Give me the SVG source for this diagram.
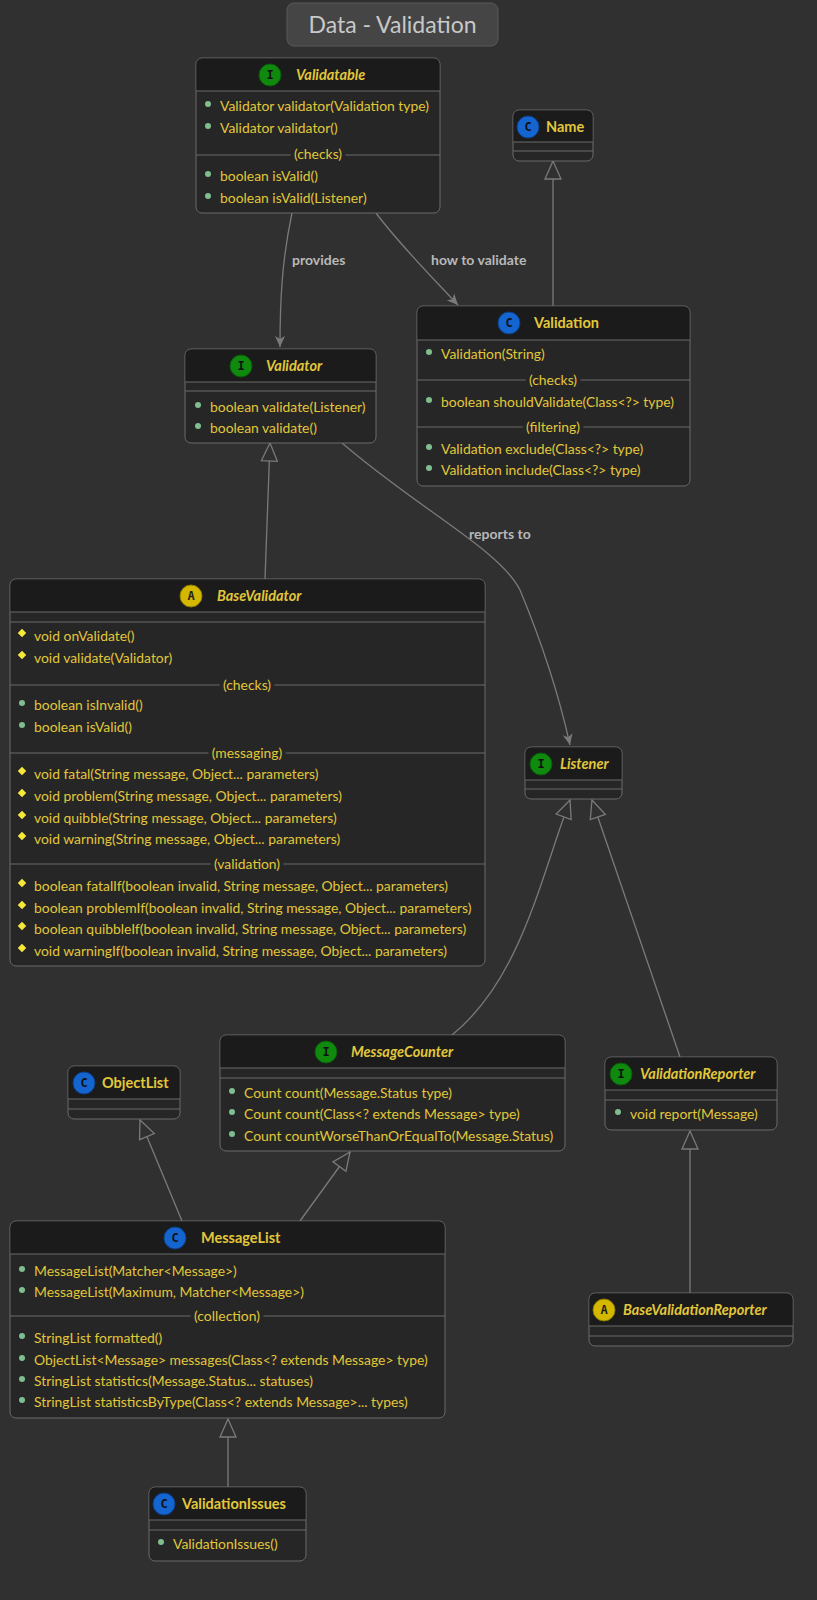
<svg xmlns="http://www.w3.org/2000/svg" width="817" height="1600" viewBox="0 0 817 1600">
<style>
text{font-family:Lato,"Noto Sans","DejaVu Sans",sans-serif;}
.box{fill:#262626;stroke:#6a6a6a;stroke-width:1}
.hd{fill:#1b1b1b}
.sep{stroke:#6a6a6a;stroke-width:1}
.t{fill:#e2c73a;font-size:13.9px}
.sl{fill:#e2c73a;font-size:13.9px;text-anchor:middle;paint-order:stroke;stroke:#262626;stroke-width:8px}
.ti{fill:#e2c73a;font-size:14.5px;font-weight:bold;font-style:italic}
.tc{fill:#e2c73a;font-size:14.5px;font-weight:bold}
.pub{fill:#7fbf8f}
.pro{fill:#f5e83a}
.ic{font-size:12px;font-weight:bold;text-anchor:middle;font-family:"DejaVu Sans Mono",monospace}
.e{fill:none;stroke:#7a7a7a;stroke-width:1.3}
.lbl{fill:#b8b8b8;font-size:14px;font-weight:bold}
</style>
<defs>
<marker id="tri" viewBox="0 0 20 20" refX="19" refY="10" markerWidth="20" markerHeight="20" markerUnits="userSpaceOnUse" orient="auto"><path d="M1,2 L19,10 L1,18 Z" fill="#303030" stroke="#7a7a7a" stroke-width="1.3"/></marker>
<marker id="arr" viewBox="0 0 12 12" refX="11" refY="6" markerWidth="12" markerHeight="12" markerUnits="userSpaceOnUse" orient="auto"><path d="M0,1 L11,6 L0,11 L3,6 Z" fill="#7a7a7a"/></marker>
<symbol id="pubb" overflow="visible"><circle r="3" class="pub"/></symbol>
</defs>
<rect width="817" height="1600" fill="#303030"/>
<g id="title"><rect x="287" y="3" width="211" height="43" rx="7" fill="#454545" stroke="#5a5a5a"/><text x="392.5" y="33" text-anchor="middle" font-size="23" fill="#c8c8c8">Data - Validation</text></g>

<g id="edges">
<path class="e" d="M292,213 C282,260 280,300 280,347" marker-end="url(#arr)"/>
<text class="lbl" x="292" y="265">provides</text>
<path class="e" d="M376,213 C400,245 430,275 458,305" marker-end="url(#arr)"/>
<text class="lbl" x="431" y="265">how to validate</text>
<path class="e" d="M553,306 L553,161" marker-end="url(#tri)"/>
<path class="e" d="M265,579 L270,443" marker-end="url(#tri)"/>
<path class="e" d="M342,443 C420,510 500,550 520,590 C545,650 560,700 570,745" marker-end="url(#arr)"/>
<text class="lbl" x="469" y="539">reports to</text>
<path class="e" d="M452,1035 C520,980 540,880 570,800" marker-end="url(#tri)"/>
<path class="e" d="M680,1057 L592,800" marker-end="url(#tri)"/>
<path class="e" d="M182,1221 L140,1120" marker-end="url(#tri)"/>
<path class="e" d="M300,1221 L350,1152" marker-end="url(#tri)"/>
<path class="e" d="M690,1293 L690,1131" marker-end="url(#tri)"/>
<path class="e" d="M228,1487 L228,1419" marker-end="url(#tri)"/>
</g>

<g id="Validatable">
<rect class="box" x="196" y="58" width="244" height="155" rx="6"/>
<path class="hd" d="M202,58.5 H434 A5.5,5.5 0 0 1 439.5,64 V91 H196.5 V64 A5.5,5.5 0 0 1 202,58.5 Z"/>
<line class="sep" x1="196" y1="91" x2="440" y2="91"/><line class="sep" x1="196" y1="155" x2="440" y2="155"/>
<circle cx="270" cy="75" r="11" fill="#0f8a0f" stroke="#0a5a0a"/><text class="ic" x="270" y="79" fill="#111">I</text>
<text class="ti" x="296" y="80">Validatable</text>
<use href="#pubb" x="208" y="104"/><text class="t" x="220" y="111">Validator validator(Validation type)</text>
<use href="#pubb" x="208" y="126"/><text class="t" x="220" y="133">Validator validator()</text>
<text class="sl" x="318" y="159">(checks)</text>
<use href="#pubb" x="208" y="174"/><text class="t" x="220" y="181">boolean isValid()</text>
<use href="#pubb" x="208" y="196"/><text class="t" x="220" y="203">boolean isValid(Listener)</text>
</g>

<g id="Name">
<rect class="box" x="513" y="110" width="80" height="51" rx="6"/>
<path class="hd" d="M519,110.5 H587 A5.5,5.5 0 0 1 592.5,116 V142 H513.5 V116 A5.5,5.5 0 0 1 519,110.5 Z"/>
<line class="sep" x1="513" y1="142" x2="593" y2="142"/><line class="sep" x1="513" y1="151" x2="593" y2="151"/>
<circle cx="528" cy="127" r="11" fill="#1565d0" stroke="#0d3f88"/><text class="ic" x="528" y="131" fill="#111">C</text>
<text class="tc" x="546" y="132">Name</text>
</g>

<g id="Validator">
<rect class="box" x="185" y="349" width="191" height="94" rx="6"/>
<path class="hd" d="M191,349.5 H370 A5.5,5.5 0 0 1 375.5,355 V382 H185.5 V355 A5.5,5.5 0 0 1 191,349.5 Z"/>
<line class="sep" x1="185" y1="382" x2="376" y2="382"/><line class="sep" x1="185" y1="391" x2="376" y2="391"/>
<circle cx="241" cy="366" r="11" fill="#0f8a0f" stroke="#0a5a0a"/><text class="ic" x="241" y="370" fill="#111">I</text>
<text class="ti" x="266" y="371">Validator</text>
<use href="#pubb" x="198" y="405"/><text class="t" x="210" y="412">boolean validate(Listener)</text>
<use href="#pubb" x="198" y="426"/><text class="t" x="210" y="433">boolean validate()</text>
</g>

<g id="Validation">
<rect class="box" x="417" y="306" width="273" height="180" rx="6"/>
<path class="hd" d="M423,306.5 H684 A5.5,5.5 0 0 1 689.5,312 V340 H417.5 V312 A5.5,5.5 0 0 1 423,306.5 Z"/>
<line class="sep" x1="417" y1="340" x2="690" y2="340"/><line class="sep" x1="417" y1="380" x2="690" y2="380"/><line class="sep" x1="417" y1="427" x2="690" y2="427"/>
<circle cx="509" cy="323" r="11" fill="#1565d0" stroke="#0d3f88"/><text class="ic" x="509" y="327" fill="#111">C</text>
<text class="tc" x="534" y="328">Validation</text>
<use href="#pubb" x="429" y="352"/><text class="t" x="441" y="359">Validation(String)</text>
<text class="sl" x="553" y="385">(checks)</text>
<use href="#pubb" x="429" y="400"/><text class="t" x="441" y="407">boolean shouldValidate(Class&lt;?&gt; type)</text>
<text class="sl" x="553" y="432">(filtering)</text>
<use href="#pubb" x="429" y="447"/><text class="t" x="441" y="454">Validation exclude(Class&lt;?&gt; type)</text>
<use href="#pubb" x="429" y="468"/><text class="t" x="441" y="475">Validation include(Class&lt;?&gt; type)</text>
</g>

<g id="BaseValidator">
<rect class="box" x="10" y="579" width="475" height="387" rx="6"/>
<path class="hd" d="M16,579.5 H479 A5.5,5.5 0 0 1 484.5,585 V612 H10.5 V585 A5.5,5.5 0 0 1 16,579.5 Z"/>
<line class="sep" x1="10" y1="612" x2="485" y2="612"/><line class="sep" x1="10" y1="622" x2="485" y2="622"/>
<line class="sep" x1="10" y1="685" x2="485" y2="685"/><line class="sep" x1="10" y1="753" x2="485" y2="753"/><line class="sep" x1="10" y1="864" x2="485" y2="864"/>
<circle cx="191" cy="596" r="11" fill="#d4b800" stroke="#8a7800"/><text class="ic" x="191" y="600" fill="#222">A</text>
<text class="ti" x="217" y="601">BaseValidator</text>
<g class="pro">
<rect x="-3" y="-3" width="6" height="6" transform="translate(22,633) rotate(45)"/>
<rect x="-3" y="-3" width="6" height="6" transform="translate(22,655) rotate(45)"/>
<rect x="-3" y="-3" width="6" height="6" transform="translate(22,771) rotate(45)"/>
<rect x="-3" y="-3" width="6" height="6" transform="translate(22,793) rotate(45)"/>
<rect x="-3" y="-3" width="6" height="6" transform="translate(22,815) rotate(45)"/>
<rect x="-3" y="-3" width="6" height="6" transform="translate(22,836) rotate(45)"/>
<rect x="-3" y="-3" width="6" height="6" transform="translate(22,883) rotate(45)"/>
<rect x="-3" y="-3" width="6" height="6" transform="translate(22,905) rotate(45)"/>
<rect x="-3" y="-3" width="6" height="6" transform="translate(22,926) rotate(45)"/>
<rect x="-3" y="-3" width="6" height="6" transform="translate(22,948) rotate(45)"/>
</g>
<text class="t" x="34" y="641">void onValidate()</text>
<text class="t" x="34" y="663">void validate(Validator)</text>
<text class="sl" x="247" y="690">(checks)</text>
<use href="#pubb" x="22" y="703"/><text class="t" x="34" y="710">boolean isInvalid()</text>
<use href="#pubb" x="22" y="725"/><text class="t" x="34" y="732">boolean isValid()</text>
<text class="sl" x="247" y="758">(messaging)</text>
<text class="t" x="34" y="779">void fatal(String message, Object... parameters)</text>
<text class="t" x="34" y="801">void problem(String message, Object... parameters)</text>
<text class="t" x="34" y="823">void quibble(String message, Object... parameters)</text>
<text class="t" x="34" y="844">void warning(String message, Object... parameters)</text>
<text class="sl" x="247" y="869">(validation)</text>
<text class="t" x="34" y="891">boolean fatalIf(boolean invalid, String message, Object... parameters)</text>
<text class="t" x="34" y="913">boolean problemIf(boolean invalid, String message, Object... parameters)</text>
<text class="t" x="34" y="934">boolean quibbleIf(boolean invalid, String message, Object... parameters)</text>
<text class="t" x="34" y="956">void warningIf(boolean invalid, String message, Object... parameters)</text>
</g>

<g id="Listener">
<rect class="box" x="525" y="747" width="97" height="52" rx="6"/>
<path class="hd" d="M531,747.5 H616 A5.5,5.5 0 0 1 621.5,753 V780 H525.5 V753 A5.5,5.5 0 0 1 531,747.5 Z"/>
<line class="sep" x1="525" y1="780" x2="622" y2="780"/><line class="sep" x1="525" y1="789" x2="622" y2="789"/>
<circle cx="541" cy="764" r="11" fill="#0f8a0f" stroke="#0a5a0a"/><text class="ic" x="541" y="768" fill="#111">I</text>
<text class="ti" x="560" y="769">Listener</text>
</g>

<g id="ObjectList">
<rect class="box" x="68" y="1066" width="112" height="53" rx="6"/>
<path class="hd" d="M74,1066.5 H174 A5.5,5.5 0 0 1 179.5,1072 V1099 H68.5 V1072 A5.5,5.5 0 0 1 74,1066.5 Z"/>
<line class="sep" x1="68" y1="1099" x2="180" y2="1099"/><line class="sep" x1="68" y1="1109" x2="180" y2="1109"/>
<circle cx="84" cy="1083" r="11" fill="#1565d0" stroke="#0d3f88"/><text class="ic" x="84" y="1087" fill="#111">C</text>
<text class="tc" x="102" y="1088">ObjectList</text>
</g>

<g id="MessageCounter">
<rect class="box" x="220" y="1035" width="345" height="116" rx="6"/>
<path class="hd" d="M226,1035.5 H559 A5.5,5.5 0 0 1 564.5,1041 V1068 H220.5 V1041 A5.5,5.5 0 0 1 226,1035.5 Z"/>
<line class="sep" x1="220" y1="1068" x2="565" y2="1068"/><line class="sep" x1="220" y1="1078" x2="565" y2="1078"/>
<circle cx="326" cy="1052" r="11" fill="#0f8a0f" stroke="#0a5a0a"/><text class="ic" x="326" y="1056" fill="#111">I</text>
<text class="ti" x="351" y="1057">MessageCounter</text>
<use href="#pubb" x="232" y="1091"/><text class="t" x="244" y="1098">Count count(Message.Status type)</text>
<use href="#pubb" x="232" y="1112"/><text class="t" x="244" y="1119">Count count(Class&lt;? extends Message&gt; type)</text>
<use href="#pubb" x="232" y="1134"/><text class="t" x="244" y="1141">Count countWorseThanOrEqualTo(Message.Status)</text>
</g>

<g id="ValidationReporter">
<rect class="box" x="605" y="1057" width="172" height="73" rx="6"/>
<path class="hd" d="M611,1057.5 H771 A5.5,5.5 0 0 1 776.5,1063 V1090 H605.5 V1063 A5.5,5.5 0 0 1 611,1057.5 Z"/>
<line class="sep" x1="605" y1="1090" x2="777" y2="1090"/><line class="sep" x1="605" y1="1100" x2="777" y2="1100"/>
<circle cx="621" cy="1074" r="11" fill="#0f8a0f" stroke="#0a5a0a"/><text class="ic" x="621" y="1078" fill="#111">I</text>
<text class="ti" x="640" y="1079">ValidationReporter</text>
<use href="#pubb" x="618" y="1112"/><text class="t" x="630" y="1119">void report(Message)</text>
</g>

<g id="MessageList">
<rect class="box" x="10" y="1221" width="435" height="197" rx="6"/>
<path class="hd" d="M16,1221.5 H439 A5.5,5.5 0 0 1 444.5,1227 V1254 H10.5 V1227 A5.5,5.5 0 0 1 16,1221.5 Z"/>
<line class="sep" x1="10" y1="1254" x2="445" y2="1254"/><line class="sep" x1="10" y1="1316" x2="445" y2="1316"/>
<circle cx="175" cy="1238" r="11" fill="#1565d0" stroke="#0d3f88"/><text class="ic" x="175" y="1242" fill="#111">C</text>
<text class="tc" x="201" y="1243">MessageList</text>
<use href="#pubb" x="22" y="1269"/><text class="t" x="34" y="1276">MessageList(Matcher&lt;Message&gt;)</text>
<use href="#pubb" x="22" y="1290"/><text class="t" x="34" y="1297">MessageList(Maximum, Matcher&lt;Message&gt;)</text>
<text class="sl" x="227" y="1321">(collection)</text>
<use href="#pubb" x="22" y="1336"/><text class="t" x="34" y="1343">StringList formatted()</text>
<use href="#pubb" x="22" y="1358"/><text class="t" x="34" y="1365">ObjectList&lt;Message&gt; messages(Class&lt;? extends Message&gt; type)</text>
<use href="#pubb" x="22" y="1379"/><text class="t" x="34" y="1386">StringList statistics(Message.Status... statuses)</text>
<use href="#pubb" x="22" y="1400"/><text class="t" x="34" y="1407">StringList statisticsByType(Class&lt;? extends Message&gt;... types)</text>
</g>

<g id="BaseValidationReporter">
<rect class="box" x="589" y="1293" width="204" height="53" rx="6"/>
<path class="hd" d="M595,1293.5 H787 A5.5,5.5 0 0 1 792.5,1299 V1326 H589.5 V1299 A5.5,5.5 0 0 1 595,1293.5 Z"/>
<line class="sep" x1="589" y1="1326" x2="793" y2="1326"/><line class="sep" x1="589" y1="1336" x2="793" y2="1336"/>
<circle cx="604" cy="1310" r="11" fill="#d4b800" stroke="#8a7800"/><text class="ic" x="604" y="1314" fill="#222">A</text>
<text class="ti" x="623" y="1315">BaseValidationReporter</text>
</g>

<g id="ValidationIssues">
<rect class="box" x="149" y="1487" width="157" height="74" rx="6"/>
<path class="hd" d="M155,1487.5 H300 A5.5,5.5 0 0 1 305.5,1493 V1520 H149.5 V1493 A5.5,5.5 0 0 1 155,1487.5 Z"/>
<line class="sep" x1="149" y1="1520" x2="306" y2="1520"/><line class="sep" x1="149" y1="1530" x2="306" y2="1530"/>
<circle cx="164" cy="1504" r="11" fill="#1565d0" stroke="#0d3f88"/><text class="ic" x="164" y="1508" fill="#111">C</text>
<text class="tc" x="182" y="1509">ValidationIssues</text>
<use href="#pubb" x="161" y="1542"/><text class="t" x="173" y="1549">ValidationIssues()</text>
</g>
</svg>
